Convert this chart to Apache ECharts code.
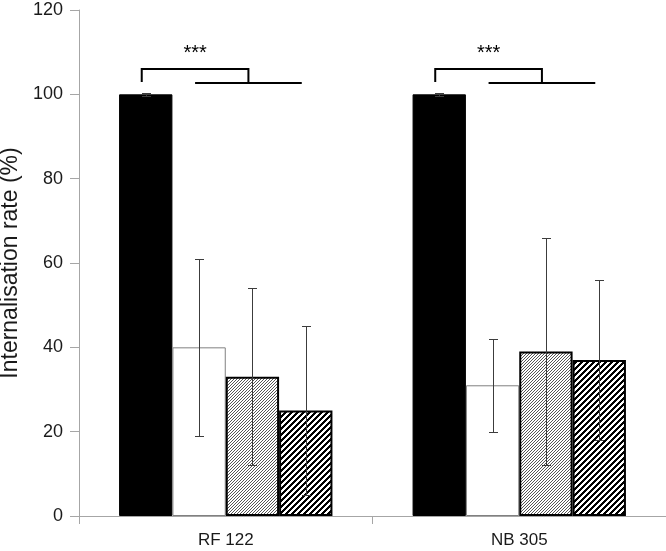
<!DOCTYPE html>
<html>
<head>
<meta charset="utf-8">
<title>Internalisation rate</title>
<script src="https://cdn.jsdelivr.net/npm/echarts@6/dist/echarts.min.js"></script>
<style>
  html, body { margin: 0; padding: 0; background: #fff; }
  #chart { width: 666px; height: 551px; }
</style>
</head>
<body>
<div id="chart"></div>
<script>
  // data
  var categories = ['RF 122', 'NB 305'];
  var yTicks = [0, 20, 40, 60, 80, 100, 120];

  var controlMean = [100, 100];
  var controlLow = [99.7, 99.7];
  var controlHigh = [100.3, 100.3];

  var openMean = [40, 31];
  var openLow = [19, 20];
  var openHigh = [61, 42];

  var greyMean = [33, 39];
  var greyLow = [12, 12];
  var greyHigh = [54, 66];

  var stripeMean = [25, 37];
  var stripeLow = [5, 18];
  var stripeHigh = [45, 56];

  // significance brackets
  var sigText = ['***', '***'];
  var bracketTop = [106, 106];
  var bracketBase = [102.7, 102.7];
  var sigTextY = [109.8, 109.8];

  var FONT = "'Liberation Sans Narrow', 'Arial Narrow', 'Liberation Sans', Arial, sans-serif";
  var GAP = 0.273;   // barCategoryGap
  var NBARS = 4;

  /* diagonal hatch as a canvas tile */
  function makeHatch(period, darkPx, color) {
    var c = document.createElement('canvas');
    c.width = period;
    c.height = period;
    var ctx = c.getContext('2d');
    ctx.fillStyle = '#fff';
    ctx.fillRect(0, 0, period, period);
    ctx.fillStyle = color;
    for (var x = 0; x < period; x++) {
      for (var y = 0; y < period; y++) {
        if ((x + y) % period < darkPx) ctx.fillRect(x, y, 1, 1);
      }
    }
    return c;
  }

  var greyHatch = makeHatch(3, 1, '#555');
  var blackHatch = makeHatch(6, 3, '#000');

  // error bar items: [category, low, high, barIndex]
  var errData = [];
  [[controlLow, controlHigh], [openLow, openHigh], [greyLow, greyHigh], [stripeLow, stripeHigh]].forEach(function (pair, j) {
    categories.forEach(function (c, i) {
      errData.push([i, pair[0][i], pair[1][i], j]);
    });
  });

  var bracketData = categories.map(function (c, i) {
    return [i, bracketTop[i], bracketBase[i], sigTextY[i]];
  });

  function barCenter(cx, band, j) {
    var bw = band * (1 - GAP) / NBARS;
    return cx + (j - (NBARS - 1) / 2) * bw;
  }

  function crisp(v) {
    return Math.round(v) + 0.5;
  }

  function renderErr(params, api) {
    var ci = api.value(0);
    var lo = api.coord([ci, api.value(1)]);
    var hi = api.coord([ci, api.value(2)]);
    var band = api.size([1, 0])[0];
    var x = crisp(barCenter(lo[0], band, api.value(3)));
    var yl = crisp(lo[1]), yh = crisp(hi[1]);
    var st = { stroke: '#3c3c3c', lineWidth: 1 };
    var cap = 4.5;
    return {
      type: 'group',
      children: [
        { type: 'line', shape: { x1: x, y1: yh, x2: x, y2: yl }, style: st },
        { type: 'line', shape: { x1: x - cap, y1: yh, x2: x + cap, y2: yh }, style: st },
        { type: 'line', shape: { x1: x - cap, y1: yl, x2: x + cap, y2: yl }, style: st }
      ]
    };
  }

  function renderBracket(params, api) {
    var ci = api.value(0);
    var top = api.coord([ci, api.value(1)]);
    var base = api.coord([ci, api.value(2)]);
    var txt = api.coord([ci, api.value(3)]);
    var band = api.size([1, 0])[0];
    var shift = -4;
    var xl = barCenter(top[0], band, 0) + shift;
    var x1 = barCenter(top[0], band, 1) + shift;
    var x3 = barCenter(top[0], band, 3) + shift;
    var xr = (x1 + x3) / 2;
    var st = { stroke: '#000', lineWidth: 2, fill: null };
    return {
      type: 'group',
      children: [
        { type: 'polyline', shape: { points: [[xl, base[1] - 1], [xl, top[1]], [xr, top[1]], [xr, base[1]]] }, style: st },
        { type: 'line', shape: { x1: x1, y1: base[1], x2: x3, y2: base[1] }, style: st },
        {
          type: 'text',
          style: {
            text: sigText[params.dataIndex],
            x: (xl + xr) / 2,
            y: txt[1],
            align: 'center',
            verticalAlign: 'middle',
            fontSize: 20,
            fontFamily: 'Liberation Sans, Arial, sans-serif',
            fill: '#000'
          }
        }
      ]
    };
  }

  var chart = echarts.init(document.getElementById('chart'));
  chart.setOption({
    animation: false,
    backgroundColor: '#fff',
    grid: {
      left: 79,
      right: 0,
      top: 10,
      bottom: 35,
      containLabel: false,
      outerBoundsMode: 'none'
    },
    xAxis: {
      type: 'category',
      data: categories,
      axisLine: { lineStyle: { color: '#a6a6a6', width: 1 } },
      axisTick: { show: true, length: 8, lineStyle: { color: '#a6a6a6' } },
      axisLabel: { fontFamily: FONT, fontSize: 17, color: '#1a1a1a', margin: 16 }
    },
    yAxis: {
      type: 'value',
      min: yTicks[0],
      max: yTicks[yTicks.length - 1],
      interval: yTicks[1] - yTicks[0],
      name: 'Internalisation rate (%)',
      nameLocation: 'middle',
      nameGap: 56,
      nameTextStyle: { fontFamily: FONT, fontSize: 23, color: '#1a1a1a' },
      axisLine: { show: true, lineStyle: { color: '#a6a6a6', width: 1 } },
      axisTick: { show: true, length: 9, lineStyle: { color: '#a6a6a6' } },
      splitLine: { show: false },
      axisLabel: { fontFamily: FONT, fontSize: 18, color: '#1a1a1a', margin: 16 }
    },
    series: [
      {
        name: 'control',
        type: 'bar',
        data: controlMean,
        barGap: '0%',
        barCategoryGap: (GAP * 100) + '%',
        itemStyle: { color: '#000', borderColor: '#000', borderWidth: 1 }
      },
      {
        name: 'open',
        type: 'bar',
        data: openMean,
        itemStyle: { color: '#fff', borderColor: '#808080', borderWidth: 1 }
      },
      {
        name: 'grey',
        type: 'bar',
        data: greyMean,
        itemStyle: { color: { image: greyHatch, repeat: 'repeat' }, borderColor: '#000', borderWidth: 2 }
      },
      {
        name: 'stripe',
        type: 'bar',
        data: stripeMean,
        itemStyle: { color: { image: blackHatch, repeat: 'repeat' }, borderColor: '#000', borderWidth: 2 }
      },
      {
        name: 'error',
        type: 'custom',
        renderItem: renderErr,
        data: errData,
        encode: { x: 0, y: [1, 2] },
        z: 10,
        silent: true
      },
      {
        name: 'significance',
        type: 'custom',
        renderItem: renderBracket,
        data: bracketData,
        encode: { x: 0, y: [1, 2, 3] },
        clip: false,
        z: 10,
        silent: true
      }
    ]
  });
</script>
</body>
</html>
